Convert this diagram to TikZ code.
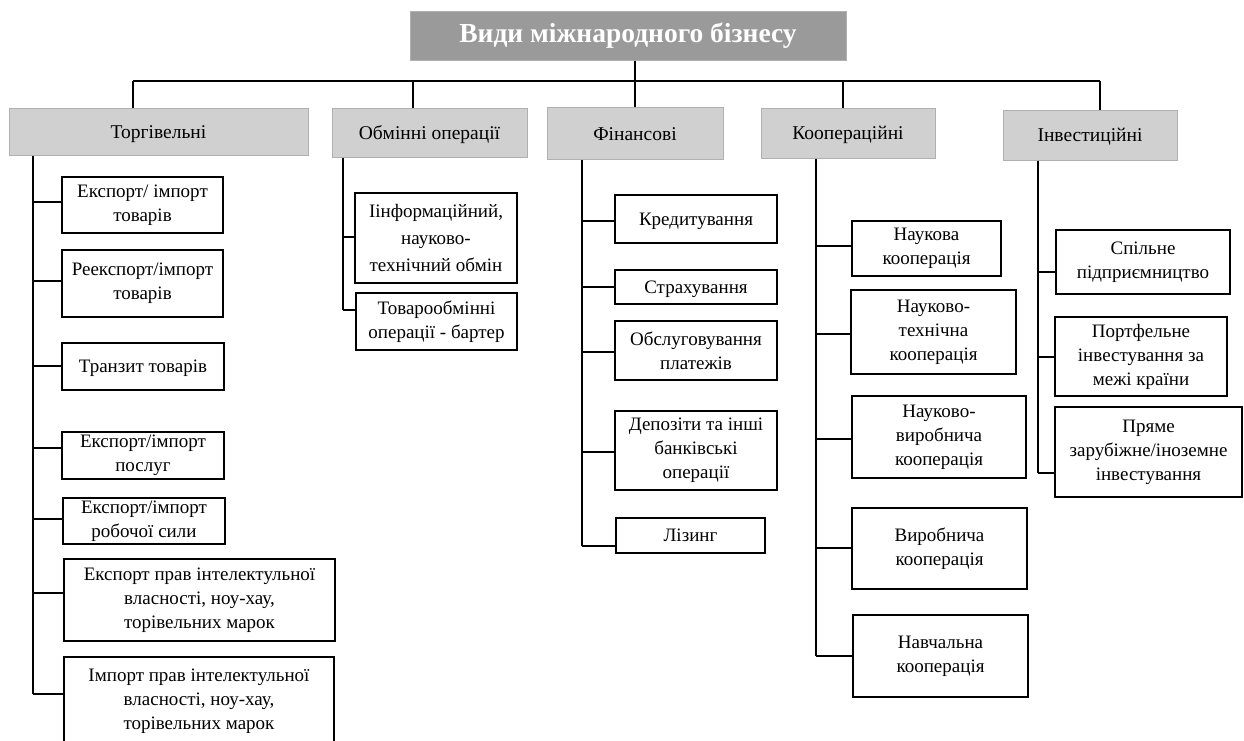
\documentclass[tikz,border=0pt]{standalone}
\usepackage{fontspec}
\setmainfont{Liberation Serif}
\newcommand{\leaffont}{\fontsize{19}{24}\selectfont}
\newcommand{\headfont}{\fontsize{19.5}{23}\selectfont}
\newcommand{\titlefont}{\fontsize{27.5}{32}\selectfont\bfseries}
\definecolor{titlegray}{HTML}{9A9A9A}
\definecolor{headgray}{HTML}{D0D0D0}
\definecolor{headedge}{HTML}{B0B0B0}
\tikzset{
  wire/.style={draw=black, line width=2pt},
  leaf/.style={draw=black, line width=2pt, fill=white, align=center, font=\leaffont, inner sep=0pt},
  oneline/.style={text height=12pt, text depth=0pt},
  headbox/.style={draw=headedge, line width=1pt, fill=headgray, align=center, font=\headfont, inner sep=0pt, text height=13pt, text depth=0pt},
  titlebox/.style={draw=headedge, line width=1pt, fill=titlegray, text=white, font=\titlefont, inner sep=0pt}
}
\newcommand{\link}[3]{\draw[wire] ([yshift=#3]#2.west) -- ([yshift=#3]#2.west -| #1);}
\begin{document}
\begin{tikzpicture}[x=1pt,y=-1pt]
\useasboundingbox (0,0) rectangle (1244,740);
% title
\node[titlebox, minimum width=436pt, minimum height=49pt] (T) at (628,35.5) {Види міжнародного бізнесу};
% headers
\node[headbox, minimum width=299pt, minimum height=47pt] (H1) at (158.5,131.5) {Торгівельні};
\node[headbox, minimum width=195pt, minimum height=49pt] (H2) at (429.5,132.5) {Обмінні операції};
\node[headbox, minimum width=176pt, minimum height=52pt] (H3) at (635,133.5) {Фінансові};
\node[headbox, minimum width=174pt, minimum height=50pt] (H4) at (848,133) {Кооперацiйні};
\node[headbox, minimum width=174pt, minimum height=50pt] (H5) at (1090,135) {Інвестиційні};
% bus
\coordinate (b1) at (133,81);
\coordinate (b2) at (413,81);
\coordinate (b3) at (635,81);
\coordinate (b4) at (843,81);
\coordinate (b5) at (1100,81);
\draw[wire] (b1) -- (b5);
\draw[wire] (T.south -| b3) -- (b3);
\draw[wire] (b1) -- (b1 |- H1.north);
\draw[wire] (b2) -- (b2 |- H2.north);
\draw[wire] (b3) -- (b3 |- H3.north);
\draw[wire] (b4) -- (b4 |- H4.north);
\draw[wire] (b5) -- (b5 |- H5.north);
% spine x positions
\coordinate (s1) at (33,0);
\coordinate (s2) at (343,0);
\coordinate (s3) at (582,0);
\coordinate (s4) at (816,0);
\coordinate (s5) at (1038,0);
% column 1
\node[leaf, minimum width=161pt, minimum height=56pt] (L11) at (142.5,205) {Експорт/ імпорт\\товарів};
\node[leaf, minimum width=161pt, minimum height=67pt] (L12) at (142.5,283.5) {Реекспорт/імпорт\\товарів};
\node[leaf, oneline, minimum width=162pt, minimum height=47pt] (L13) at (143,366.5) {Транзит товарів};
\node[leaf, minimum width=162pt, minimum height=47pt] (L14) at (143,455.5) {Експорт/імпорт\\послуг};
\node[leaf, minimum width=162pt, minimum height=46pt] (L15) at (144,521) {Експорт/імпорт\\робочої сили};
\node[leaf, minimum width=271pt, minimum height=82pt] (L16) at (199.5,600) {Експорт прав інтелектульної\\власності, ноу-хау,\\торівельних марок};
\node[leaf, minimum width=270pt, minimum height=88pt] (L17) at (199,701) {Імпорт прав інтелектульної\\власності, ноу-хау,\\торівельних марок};
\draw[wire] (s1 |- H1.south) -- ([yshift=7pt]L17.west -| s1);
\link{s1}{L11}{3pt}
\link{s1}{L12}{2.5pt}
\link{s1}{L13}{0.5pt}
\link{s1}{L14}{7.5pt}
\link{s1}{L15}{2pt}
\link{s1}{L16}{7pt}
\link{s1}{L17}{7pt}
% column 2
\node[leaf, minimum width=162pt, minimum height=90pt, font=\fontsize{19}{27}\selectfont] (L21) at (436,238) {Іінформаційний,\\науково-\\технічний обмін};
\node[leaf, minimum width=161pt, minimum height=57pt] (L22) at (436.5,321.5) {Товарообмінні\\операції - бартер};
\draw[wire] (s2 |- H2.south) -- ([yshift=11.5pt]L22.west -| s2);
\link{s2}{L21}{1pt}
\link{s2}{L22}{11.5pt}
% column 3
\node[leaf, oneline, minimum width=162pt, minimum height=48pt] (L31) at (696,219) {Кредитування};
\node[leaf, oneline, minimum width=162pt, minimum height=34pt] (L32) at (696,287) {Страхування};
\node[leaf, minimum width=162pt, minimum height=59pt] (L33) at (696,350.5) {Обслуговування\\платежів};
\node[leaf, minimum width=162pt, minimum height=79pt] (L34) at (696,450.5) {Депозіти та інші\\банківські\\операції};
\node[leaf, oneline, minimum width=149pt, minimum height=35pt] (L35) at (690.5,535.5) {Лізинг};
\draw[wire] (s3 |- H3.south) -- ([yshift=-10.5pt]L35.west -| s3);
\link{s3}{L31}{-2pt}
\link{s3}{L32}{0pt}
\link{s3}{L33}{-1.5pt}
\link{s3}{L34}{-1.5pt}
\link{s3}{L35}{-10.5pt}
% column 4
\node[leaf, minimum width=149pt, minimum height=55pt] (L41) at (926.5,248.5) {Наукова\\кооперація};
\node[leaf, minimum width=165pt, minimum height=84pt] (L42) at (933.5,332) {Науково-\\технічна\\кооперація};
\node[leaf, minimum width=174pt, minimum height=82pt] (L43) at (939,437) {Науково-\\виробнича\\кооперація};
\node[leaf, minimum width=175pt, minimum height=81pt] (L44) at (939.5,548.5) {Виробнича\\кооперація};
\node[leaf, minimum width=175pt, minimum height=82pt] (L45) at (940.5,656) {Навчальна\\кооперація};
\draw[wire] (s4 |- H4.south) -- (L45.west -| s4);
\link{s4}{L41}{2.5pt}
\link{s4}{L42}{-2pt}
\link{s4}{L43}{-2pt}
\link{s4}{L44}{0.5pt}
\link{s4}{L45}{0pt}
% column 5
\node[leaf, minimum width=174pt, minimum height=64pt] (L51) at (1143,262) {Спільне\\підприємництво};
\node[leaf, minimum width=172pt, minimum height=79pt] (L52) at (1141,356.5) {Портфельне\\інвестування за\\межі країни};
\node[leaf, minimum width=187pt, minimum height=90pt] (L53) at (1148.5,452) {Пряме\\зарубіжне/іноземне\\інвестування};
\draw[wire] (s5 |- H5.south) -- ([yshift=-21pt]L53.west -| s5);
\link{s5}{L51}{-10pt}
\link{s5}{L52}{-0.5pt}
\link{s5}{L53}{-21pt}
\end{tikzpicture}
\end{document}
